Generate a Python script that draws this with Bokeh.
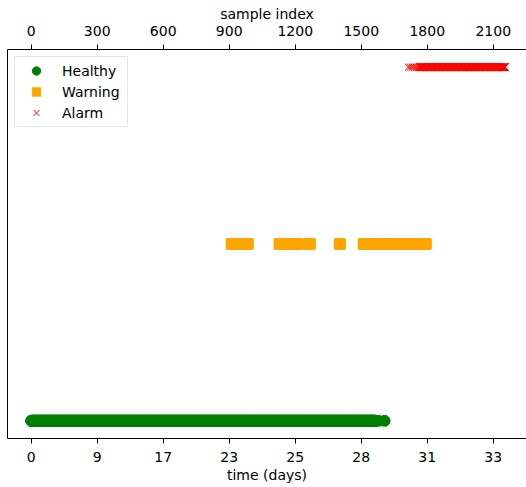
import numpy as np
from bokeh.plotting import figure
from bokeh.models import LinearAxis, FixedTicker, Range1d
from bokeh.embed import file_html
from bokeh.resources import INLINE

# Health state per sample, stored as inclusive index runs (start, end)
healthy_runs = [(0, 1565), (1578, 1578), (1606, 1606)]
warning_runs = [(909, 986), (1127, 1214), (1259, 1268), (1400, 1405), (1509, 1795)]
alarm_runs = [(1714, 1714), (1723, 1723), (1732, 1732), (1741, 1741),
              (1750, 1750), (1758, 1758), (1766, 2154)]

state_levels = {"Healthy": 0, "Warning": 1, "Alarm": 2}

# Tick positions along the sample axis and the elapsed days they correspond to
sample_ticks = [0, 300, 600, 900, 1200, 1500, 1800, 2100]
day_labels = ["0", "9", "17", "23", "25", "28", "31", "33"]

FONT = "DejaVu Sans"


def expand(runs):
    return np.concatenate([np.arange(a, b + 1) for a, b in runs])


p = figure(width=526, height=487, output_backend="svg", toolbar_location=None,
           x_range=Range1d(-107.7, 2251), y_range=Range1d(-0.1, 2.1),
           min_border_left=7, min_border_right=0,
           min_border_top=49, min_border_bottom=49)
p.outline_line_color = None
p.grid.visible = False
p.background_fill_color = "white"
p.border_fill_color = "white"

hx = expand(healthy_runs)
p.scatter(hx, np.full(hx.size, state_levels["Healthy"]), marker="circle", size=11,
          fill_color="green", line_color="green", legend_label="Healthy")
wx = expand(warning_runs)
p.scatter(wx, np.full(wx.size, state_levels["Warning"]), marker="square", size=10,
          fill_color="orange", line_color="orange", legend_label="Warning")
ax = expand(alarm_runs)
p.scatter(ax, np.full(ax.size, state_levels["Alarm"]), marker="x", size=10,
          line_color="red", line_width=1, legend_label="Alarm")


def style_axis(axis, label_standoff, title_standoff):
    axis.ticker = FixedTicker(ticks=sample_ticks)
    axis.major_tick_out = 5
    axis.major_tick_in = 0
    axis.minor_tick_line_color = None
    axis.major_tick_line_color = "black"
    axis.axis_line_color = "black"
    axis.major_label_text_font = FONT
    axis.major_label_text_font_size = "14px"
    axis.major_label_text_color = "black"
    axis.axis_label_text_font = FONT
    axis.axis_label_text_font_size = "14px"
    axis.axis_label_text_font_style = "normal"
    axis.axis_label_text_color = "black"
    axis.major_label_standoff = label_standoff
    axis.axis_label_standoff = title_standoff


bottom = p.xaxis[0]
style_axis(bottom, 8, 2)
bottom.axis_label = "time (days)"
bottom.major_label_overrides = {t: d for t, d in zip(sample_ticks, day_labels)}

top = LinearAxis(axis_label="sample index")
style_axis(top, 9, 1)
p.add_layout(top, "above")

# left spine only: no ticks, no labels
yax = p.yaxis[0]
yax.ticker = FixedTicker(ticks=[])
yax.major_tick_out = 0
yax.major_tick_in = 0
yax.minor_tick_line_color = None
yax.major_label_standoff = 0
yax.major_label_text_font_size = "0px"
yax.axis_line_color = "black"

leg = p.legend[0]
leg.location = "top_left"
leg.margin = 7
leg.padding = 3
leg.spacing = 0
leg.glyph_width = 36
leg.glyph_height = 21
leg.label_height = 21
leg.label_width = 62
leg.label_standoff = 8
leg.label_text_font = FONT
leg.label_text_font_size = "14px"
leg.label_text_color = "black"
leg.border_line_color = "#cccccc"
leg.background_fill_alpha = 0.8

open("out.html", "w").write(file_html(p, INLINE))
